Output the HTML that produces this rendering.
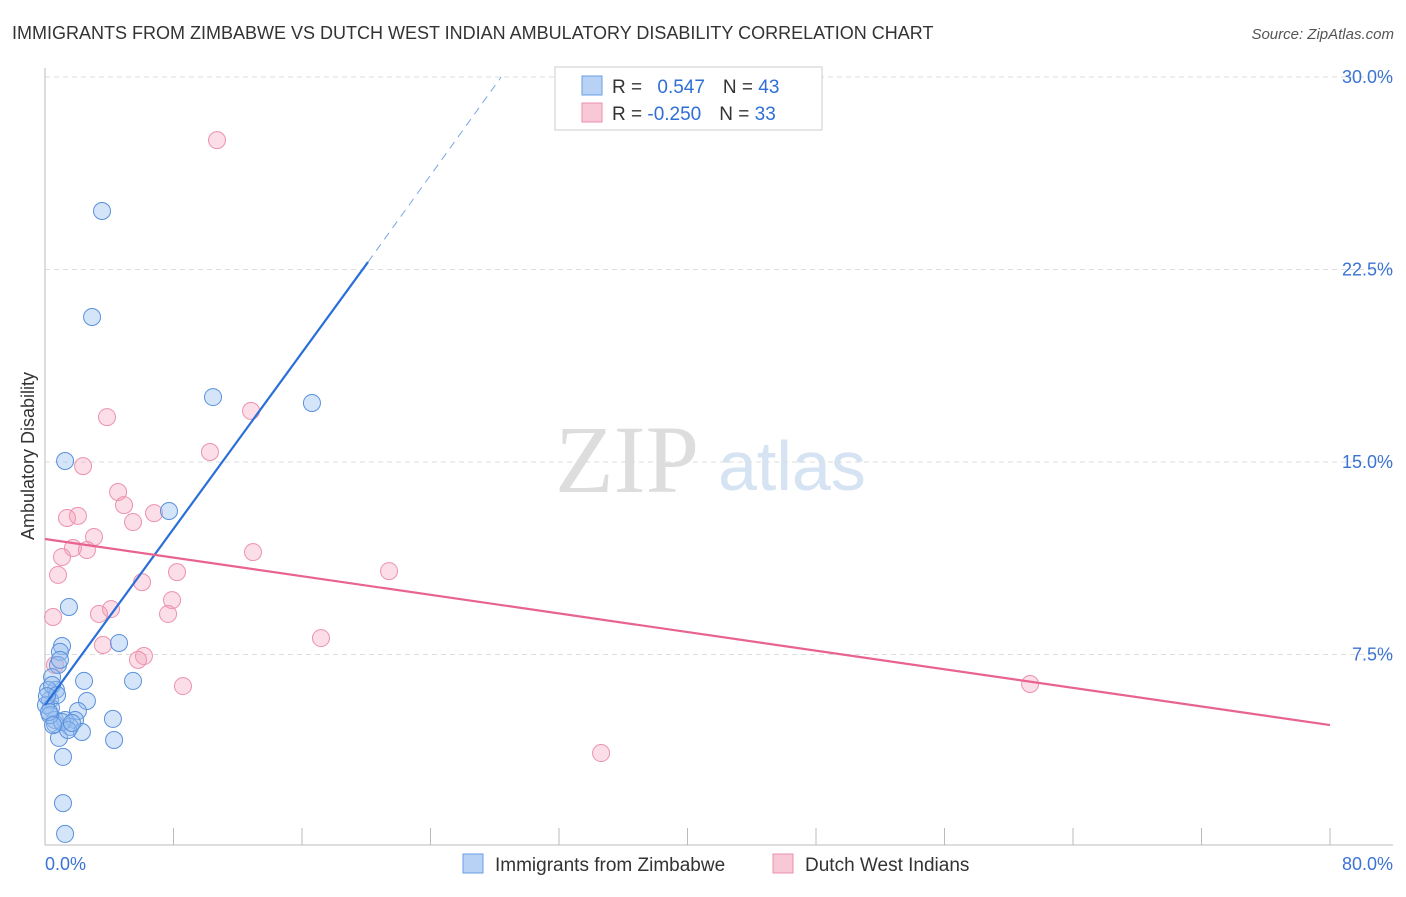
<!DOCTYPE html>
<html><head><meta charset="utf-8"><style>
body{margin:0;background:#fff;font-family:"Liberation Sans",sans-serif}
</style></head><body>
<svg id="c" width="1406" height="892" xmlns="http://www.w3.org/2000/svg" font-family="Liberation Sans, sans-serif">
<text x="12" y="39" font-size="18" fill="#333">IMMIGRANTS FROM ZIMBABWE VS DUTCH WEST INDIAN AMBULATORY DISABILITY CORRELATION CHART</text>
<text x="1394" y="39" font-size="15" fill="#555" font-style="italic" text-anchor="end">Source: ZipAtlas.com</text>
<text x="34" y="456" font-size="18" fill="#333" text-anchor="middle" transform="rotate(-90 34 456)">Ambulatory Disability</text>
<text x="555" y="492" font-size="96" fill="#ddd" font-family="Liberation Serif, serif">ZIP</text>
<text x="718" y="490" font-size="70" fill="#d5e3f3">atlas</text>
<g id="grid"></g><g id="axes"></g><g id="pts"></g><g id="lines"></g>
<g>
<rect x="555" y="67" width="267" height="63" fill="#fff" stroke="#ccc"/>
<rect x="582" y="76" width="20" height="19" fill="#b8d2f5" stroke="#6a9de0"/>
<rect x="582" y="103" width="20" height="19" fill="#f9c8d6" stroke="#ec8fab"/>
<text x="612" y="93" font-size="19" fill="#333">R = <tspan fill="#2f6fd6" dx="10">0.547</tspan><tspan dx="18">N = </tspan><tspan fill="#2f6fd6">43</tspan></text>
<text x="612" y="120" font-size="19" fill="#333">R = <tspan fill="#2f6fd6">-0.250</tspan><tspan dx="18">N = </tspan><tspan fill="#2f6fd6">33</tspan></text>
</g>
<g>
<rect x="463" y="854" width="20" height="19" fill="#b8d2f5" stroke="#6a9de0"/>
<text x="495" y="871" font-size="19" fill="#333">Immigrants from Zimbabwe</text>
<rect x="773" y="854" width="20" height="19" fill="#f9c8d6" stroke="#ec8fab"/>
<text x="805" y="871" font-size="19" fill="#333">Dutch West Indians</text>
</g>
</svg>
<script>
const blueX=[3.55,2.93,10.46,16.62,1.25,7.72,1.49,1.06,0.93,0.81,4.61,5.48,2.43,0.44,0.68,0.31,2.61,0.37,2.05,0.62,1.25,1.87,4.23,1.56,2.30,0.87,4.30,1.12,1.12,1.25,0.19,0.44,0.06,0.62,1.06,1.43,0.31,0.75,0.93,0.12,0.25,1.68,0.50];
const blueY=[24.78,20.65,17.53,17.30,15.04,13.09,9.35,7.83,7.60,7.09,7.95,6.47,6.47,6.62,6.12,5.73,5.69,5.42,5.30,4.95,4.95,4.95,4.99,4.68,4.48,4.25,4.17,3.51,1.71,0.51,6.12,6.31,5.53,4.79,4.87,4.56,5.14,5.92,7.29,5.88,5.26,4.83,4.75];
const pinkX=[10.71,3.86,12.83,10.27,2.37,4.55,4.92,2.05,1.37,6.79,5.48,3.05,1.74,2.61,1.06,12.95,0.81,8.22,21.42,6.04,7.91,0.50,4.11,3.36,7.66,3.61,17.18,6.16,5.79,8.59,61.33,34.62,0.62];
const pinkY=[27.54,16.75,16.99,15.39,14.84,13.83,13.32,12.90,12.82,13.01,12.66,12.08,11.65,11.57,11.30,11.49,10.60,10.71,10.75,10.32,9.62,8.96,9.27,9.08,9.08,7.87,8.14,7.44,7.29,6.27,6.35,3.66,7.09];
const yTicks=[7.5,15,22.5,30];
const yTickLabels=["7.5%","15.0%","22.5%","30.0%"];
const blueTrend=[[0,5.53],[20.11,22.79],[28.4,30.0]];
const pinkTrend=[[0,12.0],[80,4.75]];
const X=v=>45+v/80*1285, Y=v=>847-v/7.5*192.5;
const NS="http://www.w3.org/2000/svg";
function mk(p,t,a){const e=document.createElementNS(NS,t);for(const k in a)e.setAttribute(k,a[k]);document.getElementById(p).appendChild(e);return e;}
yTicks.forEach((t,i)=>{
 const l=mk('grid','line',{x1:45,x2:1393,y1:Y(t),y2:Y(t),stroke:'#ddd','stroke-dasharray':'5,4'});
 
 
 const tx=mk('grid','text',{x:1393,y:Y(t)+6,'font-size':18,fill:'#3b73d4','text-anchor':'end'});
 tx.textContent=yTickLabels[i];
 
 
});
let a=mk('axes','line',{x1:45,x2:45,y1:68,y2:845,stroke:'#bbb'});

a=mk('axes','line',{x1:45,x2:1393,y1:845,y2:845,stroke:'#bbb'});

for(let i=1;i<=10;i++){const t=mk('axes','line',{x1:X(i*8),x2:X(i*8),y1:828,y2:845,stroke:'#bbb'});
 
 }
let t=mk('axes','text',{x:45,y:870,'font-size':18,fill:'#3b73d4'});t.textContent='0.0%';

t=mk('axes','text',{x:1393,y:870,'font-size':18,fill:'#3b73d4','text-anchor':'end'});t.textContent='80.0%';

pinkX.forEach((x,i)=>{const c=mk('pts','circle',{cx:X(x),cy:Y(pinkY[i]),r:8.5,fill:'rgba(244,160,185,0.35)',stroke:'#ec92ad','stroke-width':1});
 
 });
blueX.forEach((x,i)=>{const c=mk('pts','circle',{cx:X(x),cy:Y(blueY[i]),r:8.5,fill:'rgba(150,190,240,0.4)',stroke:'#5a90dc','stroke-width':1});
 
 });
let l=mk('lines','line',{x1:X(blueTrend[0][0]),y1:Y(blueTrend[0][1]),x2:X(blueTrend[1][0]),y2:Y(blueTrend[1][1]),stroke:'#2a6fd8','stroke-width':2.2});

l=mk('lines','line',{x1:X(blueTrend[1][0]),y1:Y(blueTrend[1][1]),x2:X(blueTrend[2][0]),y2:Y(blueTrend[2][1]),stroke:'#7aa6e6','stroke-width':1,'stroke-dasharray':'8,6'});

l=mk('lines','line',{x1:X(pinkTrend[0][0]),y1:Y(pinkTrend[0][1]),x2:X(pinkTrend[1][0]),y2:Y(pinkTrend[1][1]),stroke:'#e8638f','stroke-width':2.2});

</script>
</body></html>
